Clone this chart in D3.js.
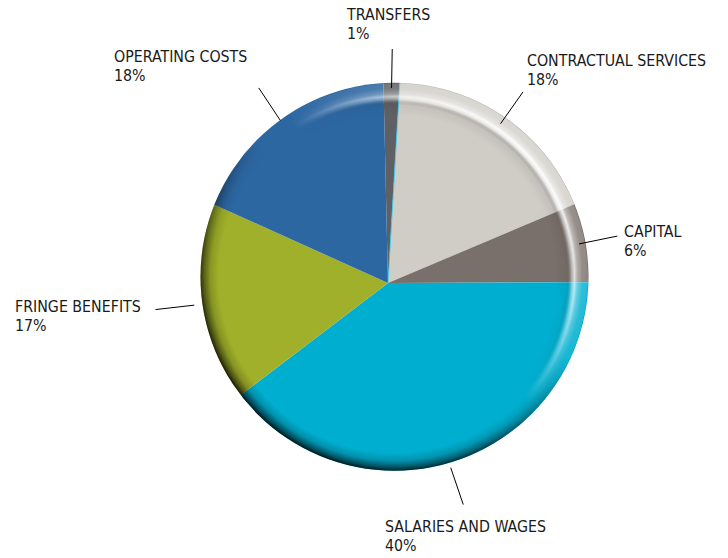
<!DOCTYPE html>
<html>
<head>
<meta charset="utf-8">
<script src="https://cdn.jsdelivr.net/npm/d3@7"></script>
<style>
  html, body { margin: 0; padding: 0; background: #fff; }
  svg { display: block; }
</style>
</head>
<body>
<svg id="chart" width="728" height="558"></svg>
<script>
// Budget shares by expense category (percent of total)
const categories = ["TRANSFERS", "CONTRACTUAL SERVICES", "CAPITAL", "SALARIES AND WAGES", "FRINGE BENEFITS", "OPERATING COSTS"];
const shares = [1.3, 17.7, 6.3, 39.7, 17.1, 17.9];
const colors = ["#5e6064", "#d0cdc7", "#7a706b", "#00afd0", "#a0b02a", "#2d67a2"];

// Label anchors: left edge x and first-line baseline y of each two-line label
const labelPos = [[347, 20], [527, 66], [624, 237], [385, 532], [15, 312], [114, 62]];

const apex = [388, 283];        // point where the wedges meet
const disc = [394.5, 276.7];    // centre of the bevelled disc outline
const R = 194;                  // disc radius
const startDeg = -1.3;

const svg = d3.select("#chart");
const defs = svg.append("defs");

const data = categories.map((c, i) => ({ name: c, value: shares[i], color: colors[i] }));
const total = d3.sum(shares);

const pie = d3.pie()
  .sort(null)
  .value(d => d.value)
  .startAngle(startDeg * Math.PI / 180)
  .endAngle(startDeg * Math.PI / 180 + 2 * Math.PI);
const arcs = pie(data);

// Clip wedges to the disc outline
defs.append("clipPath").attr("id", "discClip")
  .append("circle").attr("cx", disc[0]).attr("cy", disc[1]).attr("r", R);

const wedgeArc = d3.arc().innerRadius(0).outerRadius(280);

const pieG = svg.append("g").attr("clip-path", "url(#discClip)");
const wedges = pieG.append("g").attr("transform", `translate(${apex[0]},${apex[1]})`);
wedges.selectAll("path")
  .data(arcs)
  .join("path")
  .attr("d", wedgeArc)
  .attr("fill", d => d.data.color);

// thin bright seam where the transfers wedge meets contractual services
wedges.append("path")
  .datum(arcs[1])
  .attr("d", d => d3.lineRadial().angle(d.startAngle).radius(r => r)([0, 280]))
  .attr("fill", "none")
  .attr("stroke", "#38c6ee")
  .attr("stroke-width", 0.9);

// ---- bevel: highlight band toward the upper right, dark rim toward the lower left ----
// All bevel gradients and masks are expressed around the disc centre (origin of the bevel group)
function radial(id, stops) {
  const g = defs.append("radialGradient").attr("id", id)
    .attr("gradientUnits", "userSpaceOnUse")
    .attr("cx", 0).attr("cy", 0).attr("r", R);
  stops.forEach(([inset, color, op]) => {
    g.append("stop").attr("offset", (R - inset) / R)
      .attr("stop-color", color).attr("stop-opacity", op);
  });
}
function directional(id, deg, stops) {
  const a = deg * Math.PI / 180;
  const ux = Math.sin(a), uy = -Math.cos(a);
  const g = defs.append("linearGradient").attr("id", id)
    .attr("gradientUnits", "userSpaceOnUse")
    .attr("x1", -R * ux).attr("y1", -R * uy)
    .attr("x2", R * ux).attr("y2", R * uy);
  stops.forEach(([o, c]) => g.append("stop").attr("offset", o).attr("stop-color", c));
  const m = defs.append("mask").attr("id", id + "Mask")
    .attr("maskUnits", "userSpaceOnUse")
    .attr("x", -R - 10).attr("y", -R - 10).attr("width", 2 * R + 20).attr("height", 2 * R + 20);
  m.append("rect")
    .attr("x", -R - 10).attr("y", -R - 10).attr("width", 2 * R + 20).attr("height", 2 * R + 20)
    .attr("fill", `url(#${id})`);
}

radial("hiGrad", [
  [32, "#000000", 0],
  [22, "#000000", 0.07],
  [17, "#ffffff", 0.55],
  [14, "#ffffff", 1],
  [11, "#ffffff", 0.55],
  [6, "#ffffff", 0.25],
  [1, "#ffffff", 0.2],
  [0, "#000000", 0.12]
]);
radial("shGrad", [
  [18, "#000000", 0],
  [10, "#000000", 0.18],
  [4, "#000000", 0.55],
  [0, "#000000", 0.88]
]);
directional("hiDir", 50, [[0, "#000"], [0.55, "#000"], [0.8, "#aaa"], [1, "#fff"]]);
directional("shDir", 215, [[0, "#000"], [0.42, "#000"], [0.72, "#bbb"], [1, "#fff"]]);

const ring = d3.arc().innerRadius(R - 34).outerRadius(R + 1).startAngle(0).endAngle(2 * Math.PI);
const bevelClip = svg.append("g").attr("clip-path", "url(#discClip)");
const bevel = bevelClip.append("g").attr("transform", `translate(${disc[0]},${disc[1]})`);
bevel.append("path")
  .attr("d", ring())
  .attr("fill", "url(#hiGrad)")
  .attr("mask", "url(#hiDirMask)");
bevel.append("path")
  .attr("d", ring())
  .attr("fill", "url(#shGrad)")
  .attr("mask", "url(#shDirMask)");

// ---- leader lines ----
const innerPt = d3.arc().innerRadius(195).outerRadius(195);
const outerPt = d3.arc().innerRadius(234).outerRadius(234);
svg.append("g")
  .attr("transform", `translate(${apex[0]},${apex[1]})`)
  .selectAll("line")
  .data(arcs)
  .join("line")
  .attr("x1", d => innerPt.centroid(d)[0])
  .attr("y1", d => innerPt.centroid(d)[1])
  .attr("x2", d => outerPt.centroid(d)[0])
  .attr("y2", d => outerPt.centroid(d)[1])
  .attr("stroke", "#000")
  .attr("stroke-width", 1);

// ---- labels ----
const labels = svg.append("g")
  .attr("font-family", "'DejaVu Sans Condensed', 'DejaVu Sans', sans-serif")
  .attr("font-size", 15.8)
  .attr("fill", "#1a1a1a");

const texts = labels.selectAll("text")
  .data(arcs)
  .join("text")
  .attr("x", (d, i) => labelPos[i][0])
  .attr("y", (d, i) => labelPos[i][1]);
texts.append("tspan").text(d => d.data.name);
texts.append("tspan")
  .attr("x", (d, i) => labelPos[i][0])
  .attr("dy", 19.4)
  .text(d => Math.round(d.data.value / total * 100) + "%");

// Fall back to a narrower size if the condensed face is not available
const probe = texts.filter(d => d.data.name === "CONTRACTUAL SERVICES").select("tspan").node();
const w = probe.getComputedTextLength();
if (w > 190) labels.attr("font-size", 15.8 * 181 / w);
</script>
</body>
</html>
